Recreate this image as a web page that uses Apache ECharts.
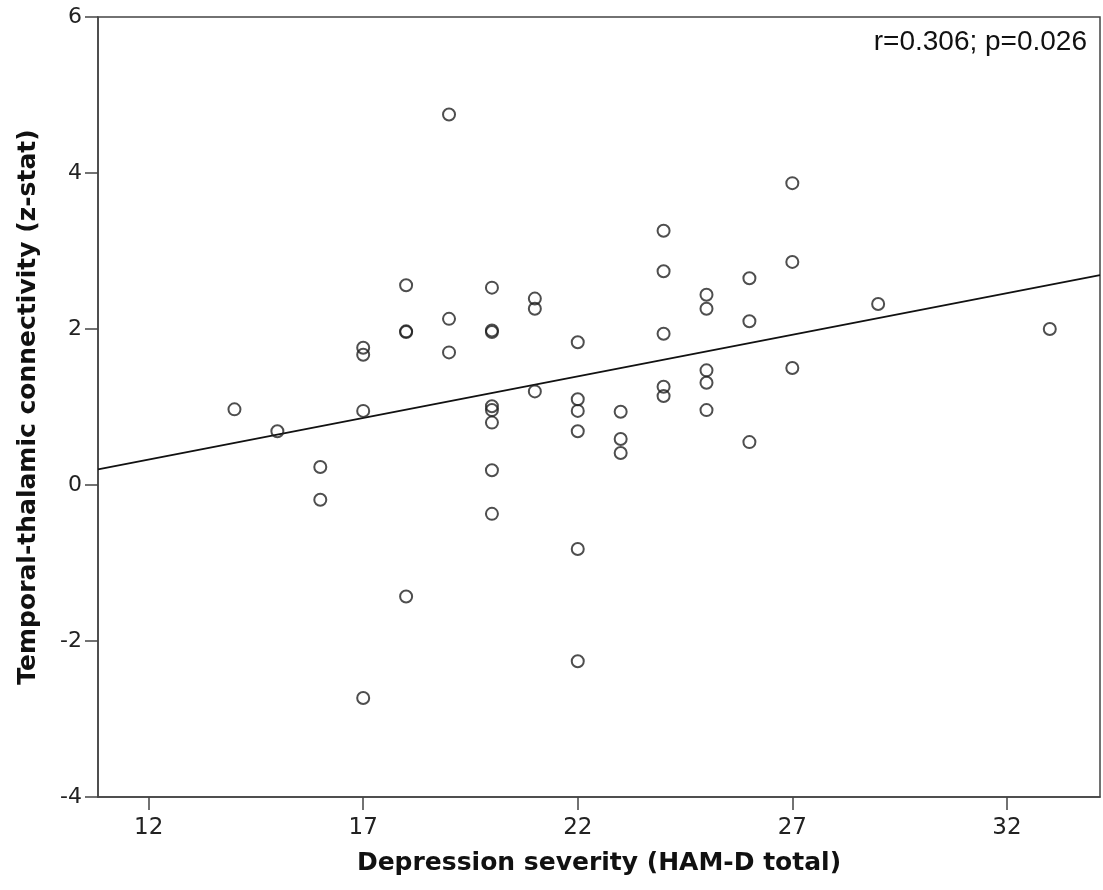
<!DOCTYPE html>
<html>
<head>
<meta charset="utf-8">
<title>Depression severity vs temporal-thalamic connectivity</title>
<script src="https://cdn.jsdelivr.net/npm/echarts@6/dist/echarts.min.js"></script>
<style>
  html, body { margin: 0; padding: 0; background: #fff; }
  #chart { width: 1103px; height: 890px; }
</style>
</head>
<body>
<div id="chart"></div>
<script>
// HAM-D total per subject
const hamdScores = [
  14, 15, 16, 16,
  17, 17, 17, 17,
  18, 18, 18, 18,
  19, 19, 19,
  20, 20, 20, 20, 20, 20, 20, 20,
  21, 21, 21,
  22, 22, 22, 22, 22, 22,
  23, 23, 23,
  24, 24, 24, 24, 24,
  25, 25, 25, 25, 25,
  26, 26, 26,
  27, 27, 27,
  29, 33
]
// temporal-thalamic connectivity (z-stat), same order
const connectivity = [
  0.97, 0.69, 0.23, -0.19,
  1.76, 1.67, 0.95, -2.73,
  2.56, 1.97, 1.96, -1.43,
  4.75, 2.13, 1.70,
  2.53, 1.98, 1.96, 1.01, 0.96, 0.80, 0.19, -0.37,
  2.39, 2.26, 1.20,
  1.83, 1.10, 0.95, 0.69, -0.82, -2.26,
  0.94, 0.59, 0.41,
  3.26, 2.74, 1.94, 1.26, 1.14,
  2.44, 2.26, 1.47, 1.31, 0.96,
  2.65, 2.10, 0.55,
  3.87, 2.86, 1.50,
  2.32, 2.00
]
// regression line end points
const fitX = [10.82, 34.17]
const fitY = [0.20, 2.69]
const xTicks = [12, 17, 22, 27, 32]
const statText = 'r=0.306; p=0.026'

const points = hamdScores.map((x, i) => [x, connectivity[i]])
const fitLine = fitX.map((x, i) => [x, fitY[i]])

const axisColor = '#444'
const myChart = echarts.init(document.getElementById('chart'))
myChart.setOption({
  animation: false,
  backgroundColor: '#fff',
  grid: { left: 98, right: 3, top: 17, bottom: 93, show: true, borderColor: axisColor, borderWidth: 1.5, containLabel: false },
  xAxis: {
    type: 'value',
    min: fitX[0],
    max: fitX[1],
    name: 'Depression severity (HAM-D total)',
    nameLocation: 'middle',
    nameGap: 54,
    nameTextStyle: { fontFamily: 'DejaVu Sans', fontWeight: 'bold', fontSize: 25, color: '#111' },
    axisLine: { onZero: false, lineStyle: { color: axisColor, width: 1.5 } },
    axisTick: { show: true, length: 13, lineStyle: { color: axisColor, width: 1.5 }, customValues: xTicks },
    axisLabel: { customValues: xTicks, margin: 20, fontFamily: 'DejaVu Sans', fontSize: 23, color: '#222' },
    splitLine: { show: false }
  },
  yAxis: {
    type: 'value',
    min: -4,
    max: 6,
    interval: 2,
    name: 'Temporal-thalamic connectivity (z-stat)',
    nameLocation: 'middle',
    nameGap: 57,
    nameTextStyle: { fontFamily: 'DejaVu Sans', fontWeight: 'bold', fontSize: 25, color: '#111' },
    axisLine: { show: true, onZero: false, lineStyle: { color: axisColor, width: 1.5 } },
    axisTick: { show: true, length: 13, lineStyle: { color: axisColor, width: 1.5 } },
    axisLabel: { margin: 16, fontFamily: 'DejaVu Sans', fontSize: 22, color: '#222' },
    splitLine: { show: false }
  },
  graphic: [{
    type: 'text',
    right: 16,
    top: 28,
    style: { text: statText, fontFamily: 'Liberation Sans', fontSize: 28, fill: '#111' }
  }],
  series: [
    {
      type: 'line',
      data: fitLine,
      symbol: 'none',
      lineStyle: { color: '#111', width: 1.8 },
      silent: true,
      z: 2
    },
    {
      type: 'scatter',
      data: points,
      symbol: 'circle',
      symbolSize: 12,
      itemStyle: { color: 'rgba(0,0,0,0)', borderColor: '#222', borderWidth: 2 },
      z: 3
    }
  ]
})
</script>
</body>
</html>
